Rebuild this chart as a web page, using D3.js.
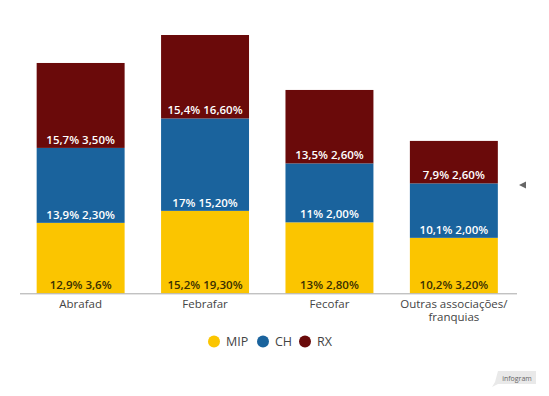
<!DOCTYPE html>
<html>
<head>
<meta charset="utf-8">
<script src="https://cdn.jsdelivr.net/npm/d3@7/dist/d3.min.js"></script>
<style>
  body { margin: 0; background: #fff; }
  svg { display: block; font-family: "Open Sans", sans-serif; }
</style>
</head>
<body>
<div id="chart"></div>
<script>
const categories = ["Abrafad", "Febrafar", "Fecofar", "Outras associações/ franquias"];
const series     = ["MIP", "CH", "RX"];
const mipValues  = [14.1, 16.5, 14.2, 11.1];
const chValues   = [15.0, 18.5, 11.8, 10.9];
const rxValues   = [17.0, 16.7, 14.7, 8.5];
const mipLabels  = ["12,9% 3,6%", "15,2% 19,30%", "13% 2,80%", "10,2% 3,20%"];
const chLabels   = ["13,9% 2,30%", "17% 15,20%", "11% 2,00%", "10,1% 2,00%"];
const rxLabels   = ["15,7% 3,50%", "15,4% 16,60%", "13,5% 2,60%", "7,9% 2,60%"];

const WIDTH  = 549;
const HEIGHT = 396;
const COLORS = { MIP: "#fbc500", CH: "#1a639d", RX: "#6a0a0a" };
const TEXT_COLORS = { MIP: "#3a2f00", CH: "#ffffff", RX: "#ffffff" };

const rows = categories.map((c, i) => ({
    cat: c, MIP: mipValues[i], CH: chValues[i], RX: rxValues[i],
    labels: { MIP: mipLabels[i], CH: chLabels[i], RX: rxLabels[i] }
}));

const svg = d3.select("#chart").append("svg")
    .attr("width", WIDTH)
    .attr("height", HEIGHT);

const x = d3.scaleBand().domain(categories).range([18, 516.5]).paddingInner(0.293).paddingOuter(0.15);
const y = d3.scaleLinear()
    .domain([0, d3.max(rows, d => d.MIP + d.CH + d.RX)])
    .range([293.3, 35]);

const stacked = d3.stack().keys(series)(rows);

const layers = svg.selectAll("g.layer")
    .data(stacked)
    .join("g")
    .attr("class", "layer")
    .attr("fill", d => COLORS[d.key]);

layers.selectAll("rect")
    .data(d => d)
    .join("rect")
    .attr("x", d => x(d.data.cat))
    .attr("width", x.bandwidth())
    .attr("y", d => y(d[1]))
    .attr("height", d => y(d[0]) - y(d[1]));

// segment labels sit at the bottom of each segment
layers.each(function (layer) {
    d3.select(this).selectAll("text")
        .data(layer)
        .join("text")
        .attr("x", d => x(d.data.cat) + x.bandwidth() / 2)
        .attr("y", d => y(d[0]) - 4)
        .attr("text-anchor", "middle")
        .attr("font-size", 11.5)
        .attr("font-weight", 600)
        .attr("fill", TEXT_COLORS[layer.key])
        .text(d => d.data.labels[layer.key]);
});

// axis baseline
svg.append("line")
    .attr("x1", 20).attr("x2", 517)
    .attr("y1", y(0) + 0.5).attr("y2", y(0) + 0.5)
    .attr("stroke", "#a8a8a8");

// category labels, the long one wrapped onto two lines
const catLines = categories.flatMap(c => {
    const parts = c.split(" ");
    const lines = parts.length > 2 ? [parts.slice(0, 2).join(" "), parts.slice(2).join(" ")] : [c];
    return lines.map((l, i) => ({ cat: c, text: l, line: i }));
});

svg.selectAll("text.cat")
    .data(catLines)
    .join("text")
    .attr("class", "cat")
    .attr("x", d => x(d.cat) + x.bandwidth() / 2)
    .attr("y", d => 307.5 + d.line * 13.5)
    .attr("text-anchor", "middle")
    .attr("font-size", 11.5)
    .attr("fill", "#444")
    .text(d => d.text);

// legend
const legendX = [214, 263, 305];
const legend = svg.selectAll("g.legend")
    .data(series)
    .join("g")
    .attr("class", "legend")
    .attr("transform", (d, i) => `translate(${legendX[i]},341.5)`);

legend.append("circle")
    .attr("r", 6)
    .attr("fill", d => COLORS[d]);

legend.append("text")
    .attr("x", 12)
    .attr("y", 4.5)
    .attr("font-size", 12.5)
    .attr("fill", "#444")
    .text(d => d);

// small side arrow
svg.append("path")
    .attr("d", "M519,185 L526,181.5 L526,188.5 Z")
    .attr("fill", "#666");

// infogram badge
const badge = svg.append("g").attr("transform", "translate(492,371)");
badge.append("path")
    .attr("d", "M6,0 L44,0 L44,13 L6,13 L0,16 L3,11 Z")
    .attr("fill", "#e9e9e9");
badge.append("text")
    .attr("x", 25).attr("y", 9.5)
    .attr("text-anchor", "middle")
    .attr("font-size", 7)
    .attr("fill", "#666")
    .text("infogram");
</script>
</body>
</html>
